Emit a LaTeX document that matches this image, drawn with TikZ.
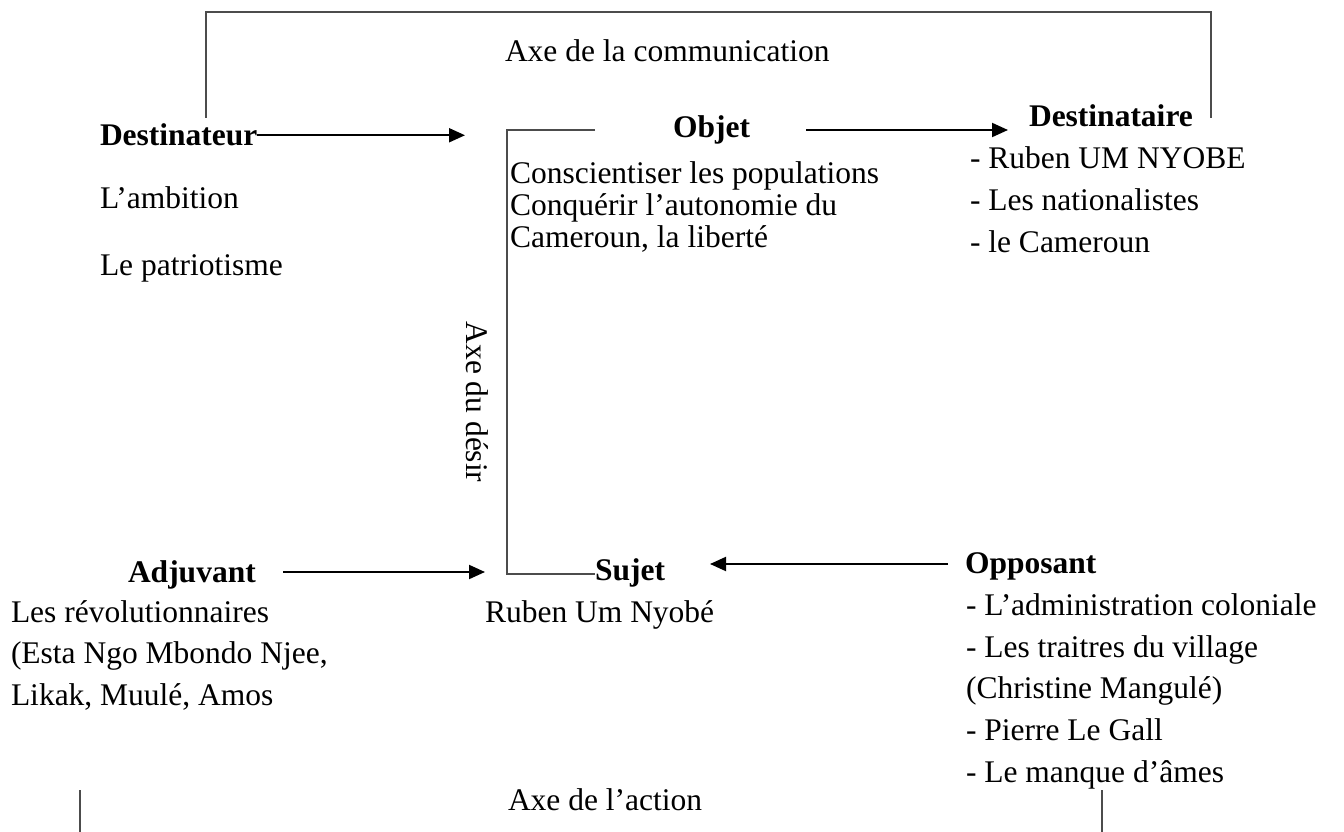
\documentclass[tikz,border=0pt]{standalone}
\usepackage{fontspec}
\setmainfont{Liberation Serif}
\usetikzlibrary{arrows.meta}
\begin{document}
\begin{tikzpicture}[x=1pt,y=-1pt,
  txt/.style={anchor=base west, inner sep=0pt, outer sep=0pt, font=\fontsize{31.5}{38}\selectfont},
  hd/.style={txt, font=\fontsize{31.5}{38}\selectfont\bfseries},
  axisline/.style={draw=black!70, line width=1.3pt},
  arr/.style={draw=black, line width=2pt, -{Triangle[length=16pt,width=14pt]}}]
\useasboundingbox (0,0) rectangle (1344,832);

% headings
\node[hd] (dest) at (100,146) {Destinateur};
\node[hd] (obj) at (673,138) {Objet};
\node[hd] (dtaire) at (1029,127) {Destinataire};
\node[hd] (adj) at (128,582) {Adjuvant};
\node[hd] (suj) at (595,580) {Sujet};
\node[hd] (opp) at (965,573) {Opposant};

% axis labels
\node[txt] (comm) at (505,62) {Axe de la communication};
\node[txt] (action) at (508,810) {Axe de l’action};
\node[font=\fontsize{31.5}{38}\selectfont, inner sep=0pt, rotate=-90] (desir) at (477,402) {Axe du désir};

% contents
\node[txt] (d1) at (100,208) {L’ambition};
\node[txt] (d2) at (100,275) {Le patriotisme};

\node[txt] (o1) at (510,183) {Conscientiser les populations};
\node[txt] (o2) at (510,215) {Conquérir l’autonomie du};
\node[txt] (o3) at (510,247) {Cameroun, la liberté};

\node[txt] (t1) at (970,168) {- Ruben UM NYOBE};
\node[txt] (t2) at (970,210) {- Les nationalistes};
\node[txt] (t3) at (970,252) {- le Cameroun};

\node[txt] (s1) at (485,622) {Ruben Um Nyobé};

\node[txt] (a1) at (11,622) {Les révolutionnaires};
\node[txt] (a2) at (11,663) {(Esta Ngo Mbondo Njee,};
\node[txt] (a3) at (11,705) {Likak, Muulé, Amos};

\node[txt] (p1) at (966,615) {- L’administration coloniale};
\node[txt] (p2) at (966,657) {- Les traitres du village};
\node[txt] (p3) at (966,698) {(Christine Mangulé)};
\node[txt] (p4) at (966,740) {- Pierre Le Gall};
\node[txt] (p5) at (966,782) {- Le manque d’âmes};

% coordinates for free ends
\coordinate (destTip) at (465,137);
\coordinate (objStart) at (806,130);
\coordinate (objTip) at (1008,130);
\coordinate (adjStart) at (283,572);
\coordinate (adjTip) at (485,572);
\coordinate (oppStart) at (948,564);
\coordinate (oppTip) at (710,564);
\coordinate (objTop) at (595,130);
\coordinate (commL) at (206,118);
\coordinate (commR) at (1211,118);
\coordinate (topY) at (0,12);
\coordinate (actL) at (80,790);
\coordinate (actR) at (1102,790);
\coordinate (botY) at (0,833);

% arrows
\draw[arr] (dest.east) -- (dest.east -| destTip);
\draw[arr] (objStart) -- (objTip);
\draw[arr] (adjStart) -- (adjTip);
\draw[arr] (oppStart) -- (oppTip);

% axis lines
\draw[axisline] (commL) -- (commL |- topY) -- (commR |- topY) -- (commR);
\draw[axisline] (objTop) -- (507,130) -- (507,574) -- (suj.west |- 0,574);
\draw[axisline] (actL) -- (actL |- botY);
\draw[axisline] (actR) -- (actR |- botY);
\end{tikzpicture}
\end{document}
